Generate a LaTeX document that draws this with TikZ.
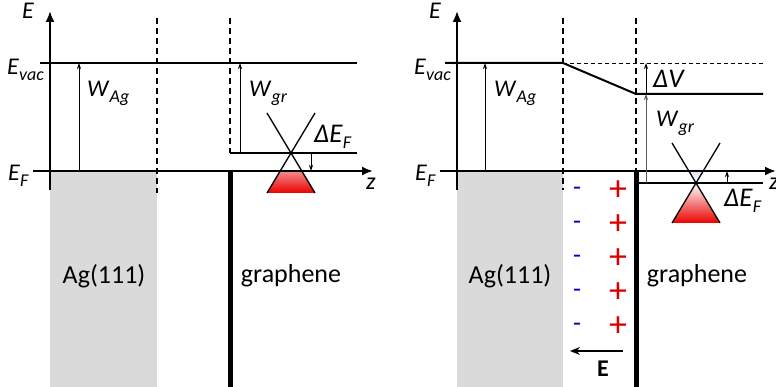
\documentclass[tikz,border=0pt]{standalone}
\usepackage{fontspec}
\setmainfont{Carlito}
\usetikzlibrary{arrows.meta}
\definecolor{metal}{RGB}{218,218,218}
\definecolor{holes}{RGB}{235,0,0}
\definecolor{elec}{RGB}{160,160,235}
\newcommand{\en}[2]{\textit{#1}\raisebox{-0.22em}{\fontsize{18}{20}\selectfont\textit{#2}}}

\begin{document}
\begin{tikzpicture}[x=1pt,y=-1pt,font=\fontsize{24}{28}\selectfont,
  axis/.style={line width=2pt,-{Latex[length=11pt,width=9pt]}},
  level/.style={line width=2pt},
  fermi/.style={line width=1.5pt},
  gap/.style={line width=1.8pt,dash pattern=on 6pt off 4pt},
  sheet/.style={line width=5pt},
  work/.style={line width=0.8pt,-{Stealth[length=6pt,width=4pt]}},
  lbl/.style={anchor=base west,inner sep=0pt},
  dlbl/.style={font=\fontsize{27}{31}\selectfont},
  big/.style={font=\fontsize{26}{30}\selectfont}]
\useasboundingbox (0,0) rectangle (776,387);
\fill[metal] (50,171) rectangle (157,387);
\begin{scope}
\clip (200,171) rectangle (360,200);
\shade[top color=white,bottom color=holes] (291,153)--(315,193)--(267,193)--cycle;
\end{scope}
\draw[level] (40,63)--(357,63);
\draw[fermi] (230,153)--(357,153);
\draw[axis] (50,190)--(50,11);
\draw[axis] (33,171)--(373,171);
\draw[gap] (157,18)--(157,193);
\draw[gap] (230,18)--(230,153);
\draw[sheet] (230,171)--(230,387);
\draw[work] (79,171)--(79,63);
\draw[work] (240,153)--(240,63);
\draw[line width=1.3pt] (267,113)--(315,193) (315,113)--(267,193);
\draw[work] (311,153)--(311,171);
\node[lbl] at (22,19) {\textit{E}};
\node[lbl] at (7,75) {\en{E}{vac}};
\node[lbl] at (8,181) {\en{E}{F}};
\node[lbl] at (87,97) {\en{W}{Ag}};
\node[lbl] at (249,97) {\en{W}{gr}};
\node[lbl,dlbl] at (314,143) {\en{ΔE}{F}};
\node[lbl] at (366,190) {\textit{z}};
\node[big] at (104,276) {Ag(111)};
\node[big] at (291,276) {graphene};
\fill[metal] (457,171) rectangle (563,387);
\begin{scope}
\clip (600,183) rectangle (760,230);
\shade[top color=white,bottom color=holes] (696,183)--(720,223)--(672,223)--cycle;
\end{scope}
\begin{scope}
\clip (600,171) rectangle (760,183);
\shade[top color=elec,bottom color=white] (672,143)--(720,143)--(696,183)--cycle;
\end{scope}
\draw[level] (445,63)--(563,63)--(636,94)--(763,94);
\draw[line width=0.8pt,dash pattern=on 4pt off 3pt] (563,63)--(763,63);
\draw[fermi] (636,183)--(763,183);
\draw[axis] (457,190)--(457,11);
\draw[axis] (440,171)--(776,171);
\draw[gap] (563,18)--(563,190);
\draw[gap] (636,18)--(636,171);
\draw[sheet] (636,171)--(636,387);
\draw[work] (485,171)--(485,63);
\draw[work] (646,94)--(646,63);
\draw[work,gray!70!black] (646,183)--(646,94);
\draw[line width=1.3pt] (672,143)--(720,223) (720,143)--(672,223);
\draw[work] (727,183)--(727,171);
\node[lbl] at (429,19) {\textit{E}};
\node[lbl] at (414,75) {\en{E}{vac}};
\node[lbl] at (415,181) {\en{E}{F}};
\node[lbl] at (494,97) {\en{W}{Ag}};
\node[lbl,dlbl] at (653,88) {\textit{ΔV}};
\node[lbl] at (656,127) {\en{W}{gr}};
\node[lbl,dlbl] at (724,207) {\en{ΔE}{F}};
\node[lbl] at (769,190) {\textit{z}};
\node[big] at (510,276) {Ag(111)};
\node[big] at (697,276) {graphene};
\foreach \q in {191,225,259,293,327}{
  \node[big,text=blue!80!black] at (577,\q) {-};
  \node[font=\fontsize{36}{40}\selectfont,text=red!85!black] at (618,\q) {+};
}
\draw[line width=1.5pt,-{Stealth[length=10pt,width=8pt]}] (623,351)--(570,351);
\node[font=\bfseries\fontsize{24}{28}\selectfont] at (603,369) {E};
\end{tikzpicture}
\end{document}
